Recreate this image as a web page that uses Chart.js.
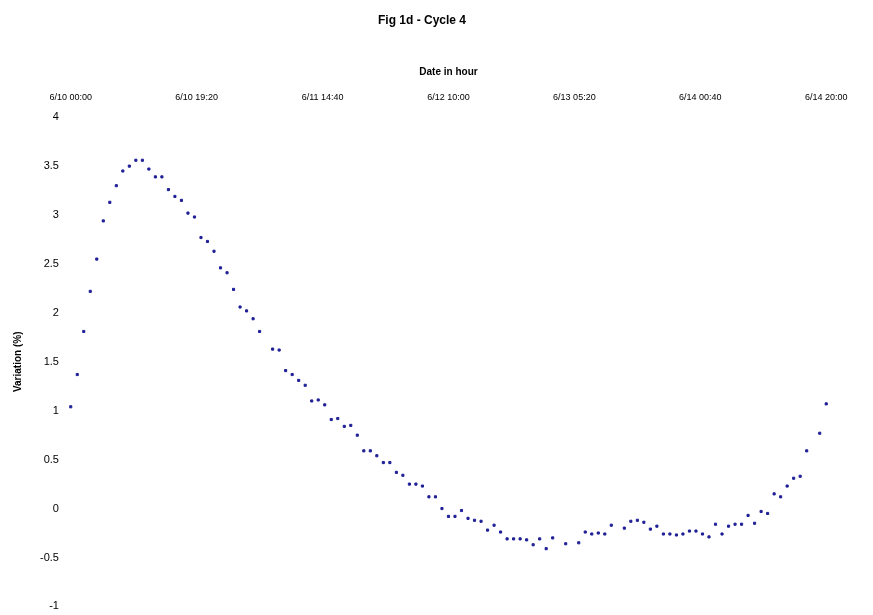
<!DOCTYPE html>
<html>
<head>
<meta charset="utf-8">
<script src="https://cdn.jsdelivr.net/npm/chart.js@4/dist/chart.umd.min.js"></script>
<style>
  body { margin: 0; background: #fff; }
</style>
</head>
<body>
<canvas id="chart"></canvas>
<script>
const ctx = document.getElementById('chart').getContext('2d');
ctx.canvas.width = 873;
ctx.canvas.height = 615;

// readings, one per hour (null = no point in the picture)
const readings = [
    1.04, 1.37, 1.81, 2.22, 2.55, 2.94, 3.13, 3.30, 3.45, 3.50,
    3.56, 3.56, 3.47, 3.39, 3.39, 3.26, 3.19, 3.15, 3.02, 2.98,
    2.77, 2.73, 2.63, 2.46, 2.41, 2.24, 2.06, 2.02, 1.94, 1.81,
    null, 1.63, 1.62, 1.41, 1.37, 1.31, 1.26, 1.10, 1.11, 1.06,
    0.91, 0.92, 0.84, 0.85, 0.75, 0.59, 0.59, 0.54, 0.47, 0.47,
    0.37, 0.34, 0.25, 0.25, 0.23, 0.12, 0.12, 0.00, -0.08, -0.08,
    -0.02, -0.10, -0.12, -0.13, -0.22, -0.17, -0.24, -0.31, -0.31, -0.31,
    -0.32, -0.37, -0.31, -0.41, -0.30, null, -0.36, null, -0.35, -0.24,
    -0.26, -0.25, -0.26, -0.17, null, -0.20, -0.13, -0.12, -0.14, -0.21,
    -0.18, -0.26, -0.26, -0.27, -0.26, -0.23, -0.23, -0.26, -0.29, -0.16,
    -0.26, -0.18, -0.16, -0.16, -0.07, -0.15, -0.03, -0.05, 0.15, 0.12,
    0.23, 0.31, 0.33, 0.59, null, 0.77, 1.07
];

const xTickHours = [0, 19.33, 38.67, 58, 77.33, 96.67, 116];
const xTickLabels = ['6/10 00:00', '6/10 19:20', '6/11 14:40', '6/12 10:00', '6/13 05:20', '6/14 00:40', '6/14 20:00'];

const points = [];
readings.forEach((v, i) => { if (v !== null) points.push({ x: i, y: v }) });

const navy = '#1f1f96';
const fontFamily = '"Liberation Sans", Arial, sans-serif';

new Chart(ctx, {
    type: 'scatter',
    data: {
        datasets: [{
            label: 'Cycle 4',
            data: points,
            pointStyle: 'rect',
            pointRadius: 1.5,
            pointBorderWidth: 1,
            backgroundColor: navy,
            borderColor: navy
        }]
    },
    options: {
        responsive: false,
        animation: false,
        layout: { padding: { top: 6, left: 8, right: 37, bottom: -4 } },
        plugins: {
            legend: { display: false },
            tooltip: { enabled: false },
            title: {
                display: true,
                text: 'Fig 1d - Cycle 4',
                color: '#000',
                font: { family: fontFamily, size: 12, weight: 'bold' },
                padding: { top: 7, bottom: 35 }
            }
        },
        scales: {
            x: {
                type: 'linear',
                position: 'top',
                min: -1.5,
                max: 117.5,
                grid: { display: false, drawTicks: false },
                border: { display: false },
                afterBuildTicks: scale => { scale.ticks = xTickHours.map(v => ({ value: v })) },
                ticks: {
                    color: '#000',
                    padding: 14,
                    maxRotation: 0,
                    autoSkip: false,
                    font: { family: fontFamily, size: 9 },
                    callback: (v, i) => xTickLabels[i]
                },
                title: {
                    display: true,
                    text: 'Date in hour',
                    color: '#000',
                    font: { family: fontFamily, size: 10, weight: 'bold' },
                    padding: { top: 4, bottom: 0 }
                }
            },
            y: {
                min: -1,
                max: 4,
                grid: { display: false, drawTicks: false },
                border: { display: false },
                ticks: {
                    stepSize: 0.5,
                    color: '#000',
                    padding: 2,
                    font: { family: fontFamily, size: 11 },
                    callback: v => String(v)
                },
                title: {
                    display: true,
                    text: 'Variation (%)',
                    color: '#000',
                    font: { family: fontFamily, size: 10, weight: 'bold' },
                    padding: { top: 4, bottom: 14 }
                }
            }
        }
    }
});
</script>
</body>
</html>
